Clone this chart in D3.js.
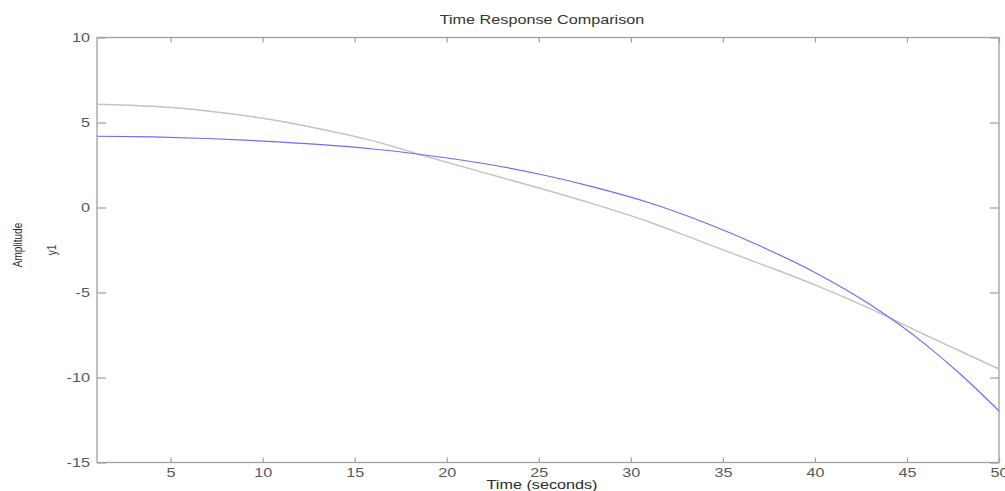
<!DOCTYPE html>
<html>
<head>
<meta charset="utf-8">
<script src="https://cdn.jsdelivr.net/npm/d3@7"></script>
<style>
  html, body { margin: 0; padding: 0; background: #fff; }
  svg { display: block; }
  text { font-family: "Liberation Sans", Arial, sans-serif; }
</style>
</head>
<body>
<svg id="chart" width="1005" height="491"></svg>
<script>
// ---- data ----
const time      = [1, 4, 7, 10, 13, 16, 19, 22, 25, 28, 31, 34, 37, 40, 43, 46, 48, 50];
const blueResp  = [4.19, 4.15, 4.06, 3.91, 3.71, 3.44, 3.06, 2.59, 1.97, 1.2, 0.28, -0.88, -2.25, -3.82, -5.71, -8.05, -9.9, -11.97];
const grayResp  = [6.08, 5.95, 5.68, 5.25, 4.65, 3.92, 2.97, 2.05, 1.15, 0.2, -0.85, -2.08, -3.3, -4.55, -5.95, -7.5, -8.5, -9.5];
const xTicks    = [5, 10, 15, 20, 25, 30, 35, 40, 45, 50];
const yTicks    = [-15, -10, -5, 0, 5, 10];
const titleText = "Time Response Comparison";
const xLabel    = "Time (seconds)";
const yLabel    = "Amplitude";
const outName   = "y1";

// ---- layout ----
const svg = d3.select("#chart");
const L = 97, R = 999, T = 37.5, B = 462.5;
const SX = 1.35; // horizontal stretch of the text in the reference
const axisColor = "#a0a0a0", tickText = "#585858";

const x = d3.scaleLinear().domain([1, 50]).range([L, R]);
const y = d3.scaleLinear().domain([-15, 10]).range([B, T]);
const fmt = d => String(d); // plain hyphen minus

function styleAxis(g) {
  g.select(".domain").remove();
  g.selectAll(".tick line").attr("stroke", axisColor).attr("stroke-width", 1.2);
}

// bottom axis (ticks pointing inward)
const gB = svg.append("g").attr("transform", `translate(0,${B})`)
  .call(d3.axisBottom(x).tickValues(xTicks).tickSize(-5).tickFormat(fmt));
styleAxis(gB);
gB.selectAll(".tick text")
  .attr("y", 6).attr("dy", "0.71em")
  .attr("fill", tickText).attr("font-size", 12)
  .attr("transform", `scale(${SX},1)`);

// top axis (ticks only)
const gT = svg.append("g").attr("transform", `translate(0,${T})`)
  .call(d3.axisTop(x).tickValues(xTicks).tickSize(-5).tickFormat(""));
styleAxis(gT);

// left axis
const gL = svg.append("g").attr("transform", `translate(${L},0)`)
  .call(d3.axisLeft(y).tickValues(yTicks).tickSize(-9).tickFormat(fmt));
styleAxis(gL);
gL.selectAll(".tick text")
  .attr("x", -7 / SX).attr("dy", "0.34em")
  .attr("fill", tickText).attr("font-size", 12)
  .attr("transform", `scale(${SX},1)`);

// right axis (ticks only)
const gR = svg.append("g").attr("transform", `translate(${R},0)`)
  .call(d3.axisRight(y).tickValues(yTicks).tickSize(-9).tickFormat(""));
styleAxis(gR);

// box
svg.append("rect")
  .attr("x", L).attr("y", T).attr("width", R - L).attr("height", B - T)
  .attr("fill", "none").attr("stroke", axisColor).attr("stroke-width", 1.3);

// curves
const line = (vals) => d3.line()
  .x((d, i) => x(time[i]))
  .y(d => y(d))
  .curve(d3.curveMonotoneX)(vals);

svg.append("path").attr("d", line(grayResp))
  .attr("fill", "none").attr("stroke", "#c3c3c3").attr("stroke-width", 1.5);
svg.append("path").attr("d", line(blueResp))
  .attr("fill", "none").attr("stroke", "#6c6cff").attr("stroke-width", 1.2);

// title
svg.append("text")
  .attr("transform", `translate(542,24) scale(${SX},1)`)
  .attr("text-anchor", "middle").attr("font-size", 12).attr("fill", "#333")
  .text(titleText);

// x label
svg.append("text")
  .attr("transform", `translate(542,489) scale(${SX},1)`)
  .attr("text-anchor", "middle").attr("font-size", 12).attr("fill", "#2a2a2a")
  .text(xLabel);

// y labels
svg.append("text")
  .attr("transform", `translate(22,245) scale(${SX},1) rotate(-90)`)
  .attr("text-anchor", "middle").attr("font-size", 10).attr("fill", "#2a2a2a")
  .text(yLabel);
svg.append("text")
  .attr("transform", `translate(56,250) scale(${SX},1) rotate(-90)`)
  .attr("text-anchor", "middle").attr("font-size", 10).attr("fill", "#444")
  .text(outName);
</script>
</body>
</html>
